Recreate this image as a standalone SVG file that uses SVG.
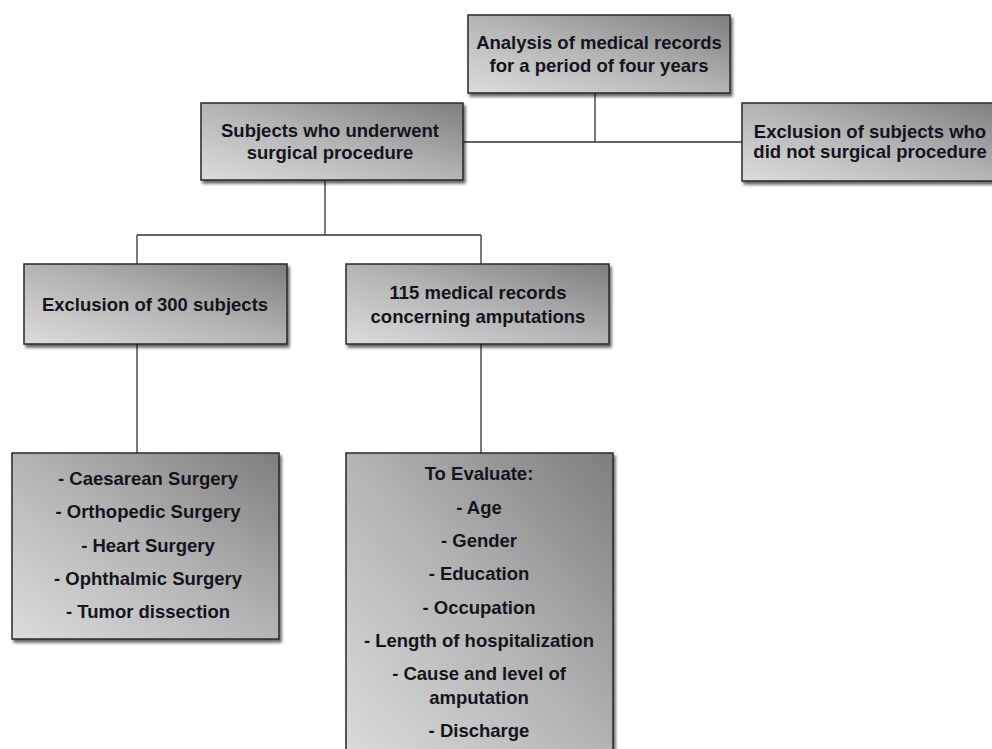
<svg xmlns="http://www.w3.org/2000/svg" width="992" height="749" viewBox="0 0 992 749">
<defs>
<linearGradient id="g" x1="0" y1="1" x2="1" y2="0">
<stop offset="0" stop-color="#dcdcdc"/>
<stop offset="0.5" stop-color="#b4b4b4"/>
<stop offset="1" stop-color="#7e7e7e"/>
</linearGradient>
<filter id="sh" x="-10%" y="-10%" width="130%" height="130%">
<feDropShadow dx="2" dy="3" stdDeviation="1.5" flood-color="#000" flood-opacity="0.6"/>
</filter>
</defs>
<style>
.box{fill:url(#g);stroke:#2a2a2a;stroke-width:1.5;filter:url(#sh)}
.t{font-family:"Liberation Sans",Arial,sans-serif;font-weight:bold;font-size:18.5px;fill:#141420;text-anchor:middle}
.c{stroke:#333;stroke-width:1.3;fill:none}
</style>
<rect width="992" height="749" fill="#fff"/>
<g id="connectors">
<path class="c" d="M595 93V142M463 142H742"/>
<path class="c" d="M325 180V235M137 235H481M137 235V264M481 235V264"/>
<path class="c" d="M137 344V453M481 344V453"/>
</g>
<g id="n1">
<rect class="box" x="468" y="15" width="262" height="78"/>
<text class="t" x="599" y="49">Analysis of medical records</text>
<text class="t" x="599" y="72">for a period of four years</text>
</g>
<g id="n2">
<rect class="box" x="201" y="103" width="262" height="77"/>
<text class="t" x="330" y="137">Subjects who underwent</text>
<text class="t" x="330" y="159">surgical procedure</text>
</g>
<g id="n3">
<rect class="box" x="742" y="103" width="262" height="78"/>
<text class="t" x="870" y="138">Exclusion of subjects who</text>
<text class="t" x="870" y="158">did not surgical procedure</text>
</g>
<g id="n4">
<rect class="box" x="24" y="264" width="263" height="80"/>
<text class="t" x="155" y="311">Exclusion of 300 subjects</text>
</g>
<g id="n5">
<rect class="box" x="346" y="264" width="263" height="80"/>
<text class="t" x="478" y="299">115 medical records</text>
<text class="t" x="478" y="323">concerning amputations</text>
</g>
<g id="n6">
<rect class="box" x="12" y="453" width="267" height="186"/>
<text class="t" x="148" y="485">- Caesarean Surgery</text>
<text class="t" x="148" y="518">- Orthopedic Surgery</text>
<text class="t" x="148" y="552">- Heart Surgery</text>
<text class="t" x="148" y="585">- Ophthalmic Surgery</text>
<text class="t" x="148" y="618">- Tumor dissection</text>
</g>
<g id="n7">
<rect class="box" x="346" y="453" width="267" height="310"/>
<text class="t" x="479" y="480">To Evaluate:</text>
<text class="t" x="479" y="514">- Age</text>
<text class="t" x="479" y="547">- Gender</text>
<text class="t" x="479" y="580">- Education</text>
<text class="t" x="479" y="614">- Occupation</text>
<text class="t" x="479" y="647">- Length of hospitalization</text>
<text class="t" x="479" y="680">- Cause and level of</text>
<text class="t" x="479" y="704">amputation</text>
<text class="t" x="479" y="737">- Discharge</text>
</g>
</svg>
